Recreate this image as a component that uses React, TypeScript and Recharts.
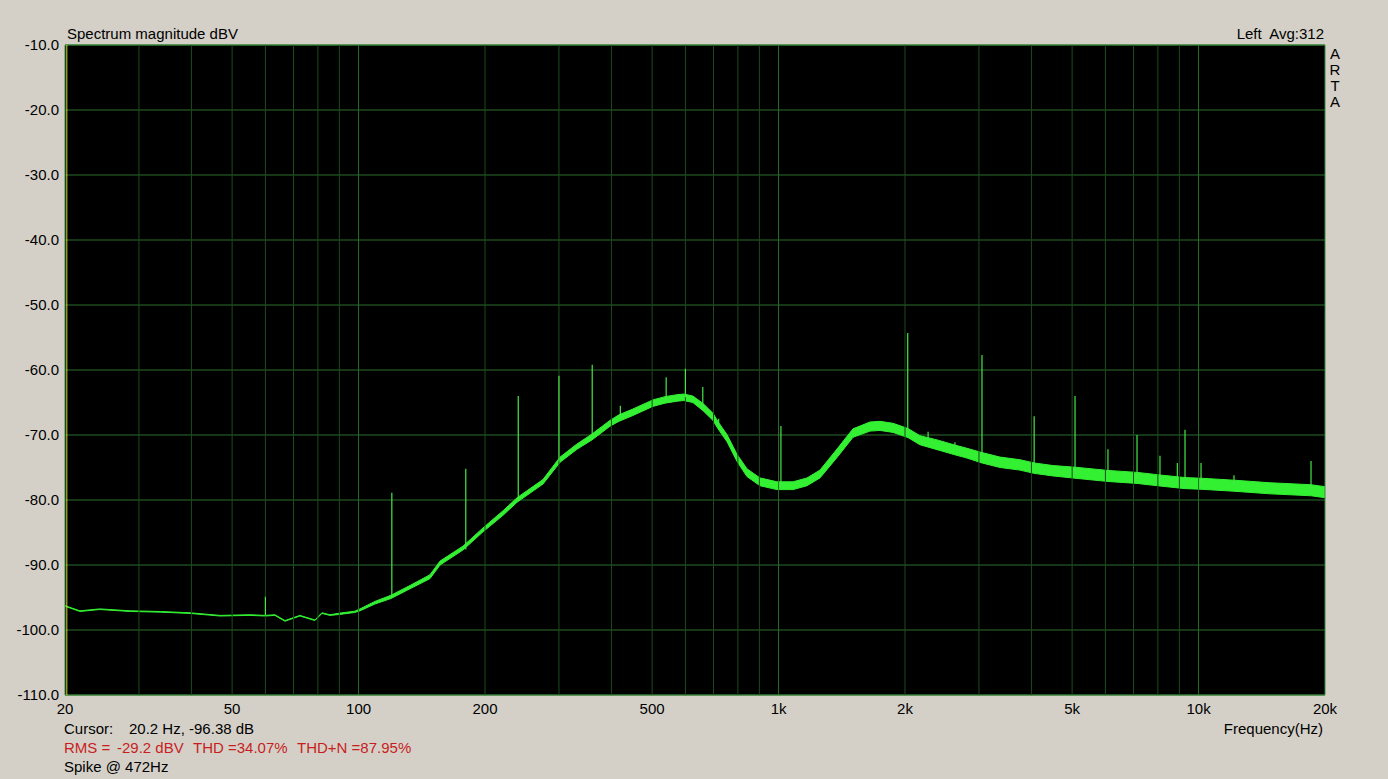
import { ComposedChart, Area, XAxis, YAxis, CartesianGrid, ReferenceLine, ReferenceArea } from 'recharts';

// spectrum trace (Hz, dBV, half-width of the noise band in dB)
const freqs = [
    20, 21.7, 24.2, 28.6, 33.7, 39.7, 46.8, 55.1, 60, 63.2, 66.8, 72.5, 78.7, 81.8, 85.5, 90.3, 98,
    100.8, 109.4, 119.5, 132.6, 147.9, 156.3, 177.2, 197.8, 220.8, 238.4, 274.8, 301.8, 331, 359.6,
    396.8, 416.9, 450, 502, 536.6, 573, 595, 625, 661, 698, 717.6, 754, 796, 841, 903, 991,
    1083, 1169, 1255, 1378, 1504, 1651, 1744, 1873, 2033, 2171, 2384, 2630, 2810, 3050, 3368,
    3756, 4058, 4503, 5080, 6085, 7136, 8093, 9284, 10136, 12144, 14792, 18524, 20000,
];
const levels = [
    -96.3, -97.1, -96.8, -97.1, -97.2, -97.4, -97.8, -97.7, -97.8, -97.7, -98.6, -97.8, -98.5, -97.4, -97.7, -97.5, -97.2,
    -96.9, -95.8, -94.9, -93.4, -91.8, -89.7, -87.4, -84.6, -82.0, -80.0, -77.2, -73.8, -71.8, -70.3,
    -68.2, -67.4, -66.5, -65.1, -64.6, -64.3, -64.2, -64.5, -65.7, -67.2, -68.5, -70.5, -73.5, -75.8, -77.2, -77.8,
    -77.8, -77.2, -76.0, -72.8, -69.7, -68.7, -68.6, -68.9, -69.7, -70.8, -71.5, -72.3, -72.8, -73.5, -74.2,
    -74.6, -75.1, -75.5, -75.8, -76.3, -76.6, -77.0, -77.4, -77.5, -77.8, -78.2, -78.5, -78.8,
];
const spread = [
    0.05, 0.05, 0.05, 0.05, 0.05, 0.05, 0.05, 0.05, 0.05, 0.05, 0.05, 0.05, 0.05, 0.05, 0.05, 0.1, 0.1,
    0.15, 0.2, 0.25, 0.25, 0.3, 0.3, 0.3, 0.3, 0.35, 0.35, 0.35, 0.4, 0.4, 0.45,
    0.45, 0.5, 0.5, 0.5, 0.5, 0.5, 0.5, 0.5, 0.55, 0.55, 0.55, 0.55, 0.55, 0.6, 0.6, 0.6,
    0.6, 0.6, 0.6, 0.65, 0.65, 0.7, 0.7, 0.7, 0.7, 0.7, 0.75, 0.75, 0.75, 0.8, 0.8,
    0.8, 0.8, 0.8, 0.85, 0.85, 0.85, 0.85, 0.85, 0.85, 0.85, 0.85, 0.85, 0.85,
];

// harmonic / hum spikes
const spikeFreqs = [60, 120, 180, 240, 300, 360, 420, 540, 600, 660, 720, 1013, 2030, 2270, 2630, 3050, 4060, 5080, 6085, 7136, 8093, 8900, 9284, 10136, 12144, 18524];
const spikeTops = [-94.9, -78.9, -75.2, -64.0, -60.9, -59.2, -65.5, -61.1, -59.8, -62.6, -67.5, -68.6, -54.3, -69.5, -71.1, -57.7, -67.1, -64.0, -72.2, -70.0, -73.2, -74.3, -69.2, -74.3, -76.2, -74.0];
const spikeBases = [-97.8, -94.9, -87.6, -80.0, -74.0, -70.3, -67.4, -64.6, -64.2, -65.7, -68.5, -77.8, -69.7, -70.8, -72.3, -73.5, -75.1, -75.8, -76.3, -76.6, -77.0, -77.3, -77.4, -77.5, -77.8, -78.5];

const gridFreqs = [30, 40, 50, 60, 70, 80, 90, 200, 300, 400, 500, 600, 700, 800, 900, 2000, 3000, 4000, 5000, 6000, 7000, 8000, 9000];
const decadeFreqs = [100, 1000, 10000];
const xTicks = [20, 50, 100, 200, 500, 1000, 2000, 5000, 10000, 20000];
const yTicks = [-110, -100, -90, -80, -70, -60, -50, -40, -30, -20, -10];

const table = freqs.map((f, i) => ({ f, band: [levels[i] - spread[i], levels[i] + spread[i]] }));

const trace = '#33f033';
const font = '"Liberation Sans", Arial, sans-serif';

export default function App() {
    const txt = { position: 'absolute' as const, fontSize: 15, lineHeight: '17px', color: '#000', whiteSpace: 'pre' as const };
    return (
        <div style={{ position: 'absolute', left: 0, top: 0, width: 1388, height: 779, background: '#d4d0c8', fontFamily: font, overflow: 'hidden' }}>
            <ComposedChart width={1388} height={779} data={table} margin={{ top: 45, right: 63, bottom: 54, left: 5 }}>
                <CartesianGrid vertical={false} stroke="#2b6e2b" fill="#000" strokeOpacity={1} />
                {gridFreqs.map((f) => (
                    <ReferenceLine key={f} x={f} stroke="#1c4c1c" strokeWidth={1} />
                ))}
                {decadeFreqs.map((f) => (
                    <ReferenceLine key={f} x={f} stroke="#2b6e2b" strokeWidth={1} />
                ))}
                <XAxis
                    dataKey="f"
                    type="number"
                    scale="log"
                    domain={[20, 20000]}
                    ticks={xTicks}
                    allowDataOverflow
                    height={30}
                    axisLine={false}
                    tickLine={false}
                    tick={{ fill: '#000', fontSize: 15, fontFamily: font }}
                    tickFormatter={(v) => (v >= 1000 ? `${v / 1000}k` : `${v}`)}
                    interval={0}
                />
                <YAxis
                    type="number"
                    domain={[-110, -10]}
                    ticks={yTicks}
                    width={60}
                    axisLine={false}
                    tickLine={false}
                    tickSize={4}
                    tick={{ fill: '#000', fontSize: 15, fontFamily: font }}
                    tickFormatter={(v) => v.toFixed(1)}
                    interval={0}
                />
                <ReferenceLine x={20.2} stroke="#d8d840" strokeWidth={1} />
                <Area
                    type="linear"
                    dataKey="band"
                    stroke={trace}
                    strokeWidth={1}
                    fill={trace}
                    fillOpacity={1}
                    isAnimationActive={false}
                    dot={false}
                    activeDot={false}
                />
                {spikeFreqs.map((f, i) => (
                    <ReferenceLine
                        key={`s${f}`}
                        segment={[{ x: f, y: spikeBases[i] }, { x: f, y: spikeTops[i] }]}
                        stroke="#45e845"
                        strokeWidth={1.2}
                    />
                ))}
                <ReferenceArea x1={20} x2={20000} y1={-110} y2={-10} fill="none" stroke="#3a8a3a" strokeWidth={1} />
            </ComposedChart>

            <div style={{ ...txt, left: 67, top: 25 }}>Spectrum magnitude dBV</div>
            <div style={{ ...txt, right: 64, top: 25 }}>Left  Avg:312</div>
            <div style={{ ...txt, left: 1329, top: 46, width: 12, lineHeight: '16px', textAlign: 'center', whiteSpace: 'normal' }}>
                A<br />R<br />T<br />A
            </div>
            <div style={{ ...txt, right: 65, top: 720 }}>Frequency(Hz)</div>
            <div style={{ ...txt, left: 64, top: 720 }}>
                Cursor:<span style={{ position: 'absolute', left: 65 }}>20.2 Hz, -96.38 dB</span>
            </div>
            <div style={{ ...txt, left: 64, top: 739, color: '#c81e1e' }}>
                RMS =
                <span style={{ position: 'absolute', left: 53 }}>-29.2 dBV</span>
                <span style={{ position: 'absolute', left: 129 }}>THD =34.07%</span>
                <span style={{ position: 'absolute', left: 233 }}>THD+N =87.95%</span>
            </div>
            <div style={{ ...txt, left: 64, top: 758 }}>Spike @ 472Hz</div>
        </div>
    );
}
